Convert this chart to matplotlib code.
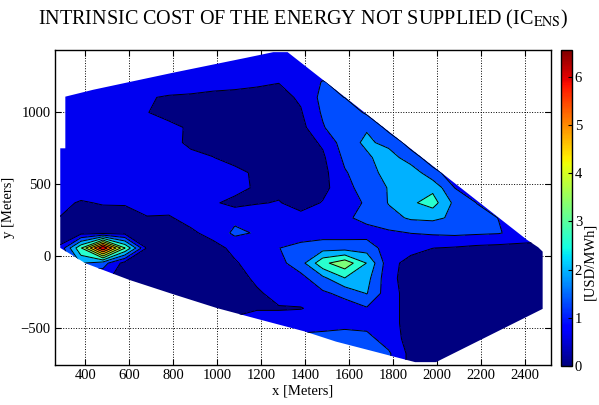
import numpy as np
import matplotlib.pyplot as plt
import matplotlib as mpl

plt.rcParams['font.family'] = ['Liberation Serif', 'DejaVu Serif']
plt.rcParams['mathtext.fontset'] = 'stix'

# grid of the study area (meters)
x_m = np.arange(280, 2481, 100)          # 23 columns
y_top_down = np.arange(1420, -786, -105)  # 22 rows, listed from top to bottom

# outline of the study area (meters)
area_x = [309, 436, 800, 1136, 1255, 1320, 2409, 2460, 2480, 2480, 1995, 1900,
          1540, 1400, 1200, 1000, 800, 600, 400, 286, 286, 309]
area_y = [1110, 1158, 1277, 1382, 1420, 1420, 112, 60, 30, -369, -740, -740,
          -597, -527, -446, -364, -267, -167, -51, 56, 750, 750]

n = np.nan
# intrinsic cost of the energy not supplied [USD/MWh], rows from top (y=1420) to bottom (y=-785)
ic_ens = [
    [n, n, n, n, n, n, 1.0, 1.0, 1.0, 1.0, 1.0, 1.0, 1.0, n, n, n, n, n, n, n, n, n, n],
    [n, n, n, 1.0, 1.0, 1.0, 1.0, 1.0, 1.0, 1.0, 1.0, 1.0, 1.0, 1.0, n, n, n, n, n, n, n, n, n],
    [1.0, 1.0, 1.0, 1.0, 1.0, 1.0, 1.0, 0.95, 0.85, 0.75, 0.67, 0.9, 1.35, 1.1, 1.0, n, n, n, n, n, n, n, n],
    [1.0, 1.0, 1.0, 1.0, 0.7, 0.6, 0.55, 0.45, 0.45, 0.45, 0.45, 0.75, 1.5, 1.3, 1.0, n, n, n, n, n, n, n, n],
    [1.0, 1.0, 1.0, 1.0, 0.68, 0.4, 0.35, 0.3, 0.3, 0.3, 0.4, 0.6, 1.4, 1.75, 1.2, 1.0, n, n, n, n, n, n, n],
    [1.0, 1.0, 1.0, 1.0, 1.0, 0.85, 0.55, 0.3, 0.25, 0.25, 0.3, 0.45, 1.25, 1.85, 1.9, 1.1, 1.0, n, n, n, n, n, n],
    [1.0, 1.0, 1.0, 1.0, 1.0, 0.9, 0.5, 0.3, 0.25, 0.25, 0.25, 0.35, 0.75, 1.65, 2.1, 1.75, 1.05, 1.0, n, n, n, n, n],
    [1.0, 1.0, 1.0, 1.0, 1.0, 1.0, 0.85, 0.68, 0.35, 0.3, 0.3, 0.35, 0.55, 1.45, 1.85, 2.3, 1.6, 1.0, 1.0, n, n, n, n],
    [1.0, 1.0, 1.0, 1.0, 1.0, 1.0, 1.0, 1.0, 0.9, 0.5, 0.3, 0.3, 0.45, 1.25, 1.7, 2.2, 2.4, 1.5, 1.0, 1.0, n, n, n],
    [1.0, 0.95, 0.95, 0.95, 1.0, 1.0, 1.0, 0.95, 0.9, 0.55, 0.45, 0.3, 0.45, 1.1, 1.6, 2.0, 2.55, 2.45, 1.3, 1.0, 1.0, n, n],
    [0.8, 0.6, 0.7, 0.7, 0.9, 0.9, 1.0, 0.75, 0.45, 0.6, 0.7, 0.35, 0.7, 1.0, 1.4, 2.0, 2.5, 2.9, 1.8, 1.3, 1.0, 1.0, n],
    [0.65, 0.45, 0.4, 0.45, 0.62, 0.6, 0.85, 1.0, 1.15, 1.2, 0.85, 0.9, 1.0, 1.2, 1.5, 1.75, 2.05, 2.1, 1.85, 1.5, 1.3, 1.0, 1.0],
    [0.45, 0.45, 0.45, 0.45, 0.45, 0.4, 0.55, 0.85, 1.45, 1.25, 1.0, 1.0, 1.0, 1.0, 1.05, 1.2, 1.32, 1.4, 1.45, 1.4, 1.35, 1.1, 0.9],
    [0.7, 3.2, 6.5, 3.3, 0.6, 0.4, 0.4, 0.45, 0.8, 1.1, 1.3, 1.5, 1.7, 1.7, 1.65, 1.0, 0.9, 0.66, 0.6, 0.5, 0.45, 0.45, 0.5],
    [0.6, 2.0, 1.6, 0.4, 0.35, 0.35, 0.35, 0.4, 0.6, 0.9, 1.1, 1.7, 3.1, 3.7, 2.6, 0.9, 0.4, 0.35, 0.3, 0.3, 0.3, 0.35, 0.4],
    [n, 0.5, 0.8, 0.4, 0.3, 0.3, 0.3, 0.3, 0.35, 0.8, 1.0, 1.1, 1.8, 2.6, 2.2, 0.85, 0.35, 0.3, 0.3, 0.3, 0.3, 0.3, 0.4],
    [n, n, n, 0.4, 0.35, 0.35, 0.35, 0.3, 0.35, 0.55, 0.9, 1.0, 1.2, 1.5, 2.0, 0.9, 0.4, 0.3, 0.3, 0.3, 0.3, 0.35, 0.4],
    [n, n, n, n, n, 0.35, 0.35, 0.4, 0.5, 0.6, 0.6, 0.62, 0.9, 1.0, 1.25, 0.9, 0.4, 0.3, 0.3, 0.3, 0.35, 0.35, 0.4],
    [n, n, n, n, n, n, n, 0.5, 0.8, 1.0, 1.0, 1.15, 1.15, 1.15, 1.1, 0.9, 0.4, 0.3, 0.3, 0.35, 0.4, 0.4, 0.4],
    [n, n, n, n, n, n, n, n, n, 1.0, 1.1, 1.4, 1.45, 1.55, 1.5, 1.0, 0.4, 0.35, 0.35, 0.4, 0.4, 0.4, n],
    [n, n, n, n, n, n, n, n, n, n, n, n, 1.5, 1.5, 1.5, 1.4, 0.45, 0.4, 0.4, 0.4, 0.4, n, n],
    [n, n, n, n, n, n, n, n, n, n, n, n, n, n, 1.5, 1.4, 0.45, 0.4, 0.4, n, n, n, n],
]

z_max = 6.55
cbar_ticks = [0, 1, 2, 3, 4, 5, 6]

y_m = y_top_down[::-1]
Z = np.ma.masked_invalid(np.array(ic_ens)[::-1])
X, Y = np.meshgrid(x_m, y_m)

levels = np.linspace(0, z_max, 11)
band_colors = [plt.cm.jet(lv / z_max) for lv in levels[:-1]]

fig = plt.figure(figsize=(5.99, 4.05), dpi=100)
ax = fig.add_axes([55 / 599, 1 - 365 / 405, 496 / 599, 315 / 405])

area = mpl.patches.Polygon(np.column_stack([area_x, area_y]), closed=True,
                           transform=ax.transData, facecolor='none', edgecolor='none')

cf = ax.contourf(X, Y, Z, levels=levels, colors=band_colors, corner_mask=True)
cl = ax.contour(X, Y, Z, levels=levels[1:-1], colors='k', linewidths=0.7, corner_mask=True)
cf.set_clip_path(area)
cl.set_clip_path(area)

ax.set_xlim(262, 2518)
ax.set_ylim(-760, 1435)
ax.set_xticks(range(400, 2401, 200))
ax.set_yticks([-500, 0, 500, 1000])
ax.grid(True, linestyle=':', color='k', linewidth=0.7)
ax.set_axisbelow(True)
ax.tick_params(direction='in', top=True, right=True, length=4, labelsize=10.5, pad=3)
for s in ax.spines.values():
    s.set_linewidth(1.0)
ax.set_xlabel('x [Meters]', fontsize=10.5, labelpad=2)
ax.set_ylabel('y [Meters]', fontsize=10.5, labelpad=4)

fig.text(303 / 599, 1 - 24 / 405, 'INTRINSIC COST OF THE ENERGY NOT SUPPLIED (IC$_{\\mathrm{ENS}}$)',
         ha='center', va='baseline', fontsize=14.5)

cax = fig.add_axes([561 / 599, 1 - 366 / 405, 11 / 599, 316 / 405])
sm = mpl.cm.ScalarMappable(norm=mpl.colors.Normalize(0, z_max), cmap='jet')
cb = fig.colorbar(sm, cax=cax, ticks=cbar_ticks)
cb.ax.tick_params(direction='in', length=3, labelsize=10.5, pad=2)
cb.outline.set_linewidth(1.0)
fig.text(590 / 599, 1 - 261 / 405, '[USD/MWh]', rotation=90, ha='center', va='center', fontsize=10.5)

fig.savefig('out.png', dpi=100)
